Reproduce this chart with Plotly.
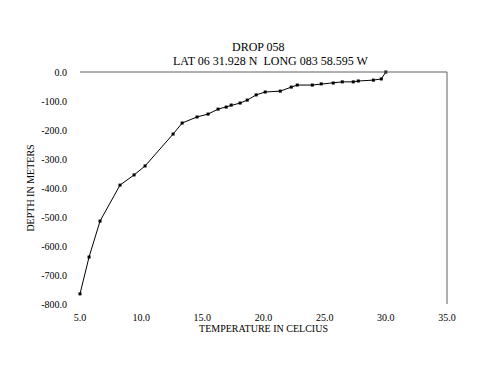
import plotly.graph_objects as go

temperature = [5.0, 5.74, 6.64, 8.27, 9.42, 10.32, 12.61, 13.35, 14.57, 15.47, 16.29, 16.95,
               17.36, 18.09, 18.67, 19.4, 20.14, 21.37, 22.27, 22.76, 23.99, 24.72, 25.7,
               26.44, 27.34, 27.75, 28.98, 29.63, 30.0]
depth = [-765, -638, -514, -390, -355, -324, -214, -176, -155, -145, -128, -121,
         -114, -107, -97, -79, -69, -66, -52, -45, -45, -41, -38,
         -34, -34, -31, -28, -24, 0]

x_ticks = [5, 10, 15, 20, 25, 30, 35]
y_ticks = [0, -100, -200, -300, -400, -500, -600, -700, -800]

font = "Liberation Serif, Times New Roman, serif"

# page body has an 8px margin, so the figure is shifted; compensate in margins
L, R, T, B = 72, 61, 64, 90
pw = 500 - L - R
ph = 386 - T - B

fig = go.Figure()
fig.add_trace(go.Scatter(
    x=temperature, y=depth, mode="lines+markers",
    line=dict(color="black", width=1),
    marker=dict(symbol="square", size=3, color="black"),
    showlegend=False, cliponaxis=False,
))

fig.update_layout(
    width=500, height=386,
    margin=dict(l=L, r=R, t=T, b=B),
    paper_bgcolor="white", plot_bgcolor="white",
    font=dict(family=font, color="black", size=10),
    xaxis=dict(range=[5, 35], tickvals=x_ticks, ticktext=[f"{v:.1f}" for v in x_ticks],
               showgrid=False, zeroline=False, showline=False,
               ticks="outside", ticklen=4, tickcolor="rgba(0,0,0,0)",
               tickfont=dict(size=10, family=font),
               title=dict(text="TEMPERATURE IN CELCIUS", font=dict(size=10, family=font), standoff=2)),
    yaxis=dict(range=[-800, 0], tickvals=y_ticks, ticktext=[f"{v:.1f}" for v in y_ticks],
               showgrid=False, zeroline=False, showline=False,
               ticks="outside", ticklen=10, tickcolor="rgba(0,0,0,0)",
               tickfont=dict(size=10, family=font),
               title=dict(text="DEPTH IN METERS", font=dict(size=10, family=font), standoff=4)),
    shapes=[
        dict(type="line", xref="paper", yref="paper", x0=0, x1=1, y0=1, y1=1,
             line=dict(color="#606060", width=1)),
        dict(type="line", xref="paper", yref="paper", x0=1, x1=1, y0=0, y1=1,
             line=dict(color="#606060", width=1)),
    ],
)

# title lines placed by screen pixel position (screen = figure + 8)
def px_to_paper(sx, sy):
    fx, fy = sx - 8, sy - 8
    return (fx - L) / pw, ((386 - B) - fy) / ph

x1, y1 = px_to_paper(258, 47)
x2, y2 = px_to_paper(271, 61)
fig.add_annotation(text="DROP 058", xref="paper", yref="paper", x=x1, y=y1,
                   showarrow=False, font=dict(size=12, family=font), xanchor="center", yanchor="middle")
fig.add_annotation(text="LAT 06 31.928 N  LONG 083 58.595 W", xref="paper", yref="paper", x=x2, y=y2,
                   showarrow=False, font=dict(size=12, family=font), xanchor="center", yanchor="middle")

fig.write_html("out.html")
